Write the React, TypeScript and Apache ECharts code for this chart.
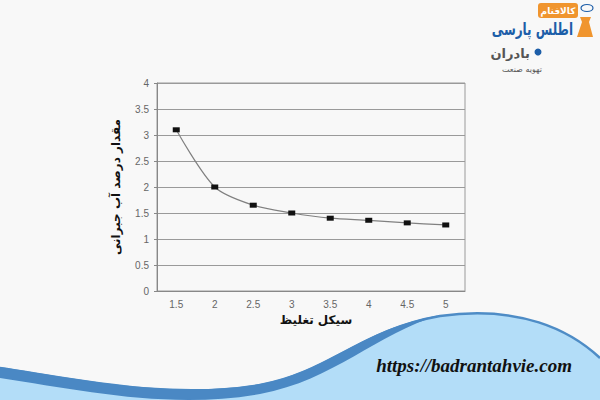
import React, { useEffect, useRef } from "react";
import * as echarts from "echarts";

const categories = ["1.5", "2", "2.5", "3", "3.5", "4", "4.5", "5"];
const values = [3.1, 2.0, 1.65, 1.5, 1.4, 1.36, 1.31, 1.27];
const yTitle = "مقدار درصد آب جبرانی";
const xTitle = "سیکل تغلیظ";
const url = "https://badrantahvie.com";

echarts.graphic.registerShape(
  "waveFill",
  echarts.graphic.extendPath(
    "M0,368 C80,380 170,400 260,385 C330,372 360,330 440,316 C520,305 570,330 600,358 L600,400 L0,400 Z",
    {}
  )
);
echarts.graphic.registerShape(
  "waveEdge",
  echarts.graphic.extendPath(
    "M0,368 C80,380 170,400 260,385 C330,372 360,330 440,316 C520,305 570,330 600,358",
    {}
  )
);
echarts.graphic.registerShape(
  "waveBand",
  echarts.graphic.extendPath(
    "M0,367 C80,379 170,399 260,384 C330,371 360,329 440,315 C375,334 335,380 260,394 C170,410 80,390 0,378 Z",
    {}
  )
);

export default function App() {
  const ref = useRef<HTMLDivElement>(null);
  useEffect(() => {
    const chart = echarts.init(ref.current!, null, { renderer: "svg" });
    const arabic = "'DejaVu Sans', 'Noto Sans', sans-serif";
    chart.setOption({
      animation: false,
      backgroundColor: "#f8f8f8",
      grid: {
        left: 157,
        right: 135,
        top: 83,
        bottom: 109,
        show: true,
        borderColor: "#9a9a9a",
        borderWidth: 1,
        backgroundColor: "transparent",
      },
      xAxis: {
        type: "category",
        data: categories,
        boundaryGap: true,
        name: xTitle,
        nameLocation: "middle",
        nameGap: 23,
        nameTextStyle: { fontFamily: arabic, fontWeight: "bold", fontSize: 12, color: "#111", padding: [0, 0, 0, 10] },
        axisLine: { lineStyle: { color: "#888" } },
        axisTick: { alignWithLabel: true, length: 3, lineStyle: { color: "#888" } },
        axisLabel: { color: "#666", fontSize: 10, fontFamily: "Arial, 'Liberation Sans'", margin: 8 },
        splitLine: { show: false },
      },
      yAxis: {
        type: "value",
        min: 0,
        max: 4,
        interval: 0.5,
        name: yTitle,
        nameLocation: "middle",
        nameGap: 35,
        nameRotate: 90,
        nameTextStyle: { fontFamily: arabic, fontWeight: "bold", fontSize: 12, color: "#111" },
        axisLine: { show: true, lineStyle: { color: "#888" } },
        axisTick: { show: true, length: 3, lineStyle: { color: "#888" } },
        axisLabel: { color: "#666", fontSize: 10, fontFamily: "Arial, 'Liberation Sans'", margin: 8 },
        splitLine: { lineStyle: { color: "#9a9a9a", width: 1 } },
      },
      series: [
        {
          type: "line",
          data: values,
          smooth: 0.3,
          symbol: "rect",
          symbolSize: [7, 5],
          itemStyle: { color: "#111" },
          lineStyle: { color: "#808080", width: 1.2 },
        },
      ],
      graphic: [
        { type: "waveFill", x: 0, y: 0, style: { fill: "#b3ddf8" }, z: 1 },
        { type: "waveEdge", x: 0, y: 0, style: { fill: null, stroke: "#4e8cc6", lineWidth: 2.5 }, z: 2 },
        { type: "waveBand", x: 0, y: 0, style: { fill: "#4a88c4" }, z: 2 },
        {
          type: "text",
          z: 3,
          style: {
            text: url,
            x: 572,
            y: 365,
            textAlign: "right",
            textVerticalAlign: "middle",
            fill: "#111",
            font: "italic bold 19px 'Liberation Serif', 'Times New Roman', serif",
          },
        },
        // logo
        {
          type: "rect",
          z: 3,
          shape: { x: 538, y: 3, width: 40, height: 15, r: 3 },
          style: { fill: "#f0952e" },
        },
        {
          type: "text",
          z: 4,
          style: {
            text: "کالافنام",
            x: 558,
            y: 11,
            textAlign: "center",
            textVerticalAlign: "middle",
            fill: "#fff",
            font: "bold 9px 'DejaVu Sans', sans-serif",
          },
        },
        {
          type: "text",
          z: 3,
          x: 573,
          y: 29,
          scaleY: 1.4,
          style: {
            text: "اطلس پارسی",
            x: 0,
            y: 0,
            textAlign: "right",
            textVerticalAlign: "middle",
            fill: "#1d5ea8",
            font: "bold 12px 'DejaVu Sans', sans-serif",
          },
        },
        {
          type: "polygon",
          z: 3,
          shape: { points: [[580, 17], [591, 17], [589, 22], [593, 37], [577, 37], [582, 22]] },
          style: { fill: "#f0952e" },
        },
        {
          type: "ellipse",
          z: 3,
          shape: { cx: 587, cy: 8, rx: 6, ry: 3.5 },
          style: { fill: "none", stroke: "#1d5ea8", lineWidth: 1.2 },
        },
        {
          type: "text",
          z: 3,
          style: {
            text: "بادران",
            x: 530,
            y: 53,
            textAlign: "right",
            textVerticalAlign: "middle",
            fill: "#555",
            font: "bold 13px 'DejaVu Sans', sans-serif",
          },
        },
        {
          type: "circle",
          z: 3,
          shape: { cx: 538, cy: 52, r: 3.5 },
          style: { fill: "#1d5ea8" },
        },
        {
          type: "text",
          z: 3,
          style: {
            text: "تهویه صنعت",
            x: 542,
            y: 69,
            textAlign: "right",
            textVerticalAlign: "middle",
            fill: "#555",
            font: "8px 'DejaVu Sans', sans-serif",
          },
        },
      ],
    });
    return () => chart.dispose();
  }, []);
  return (
    <div
      ref={ref}
      style={{ position: "absolute", left: 0, top: 0, width: 600, height: 400 }}
    />
  );
}
